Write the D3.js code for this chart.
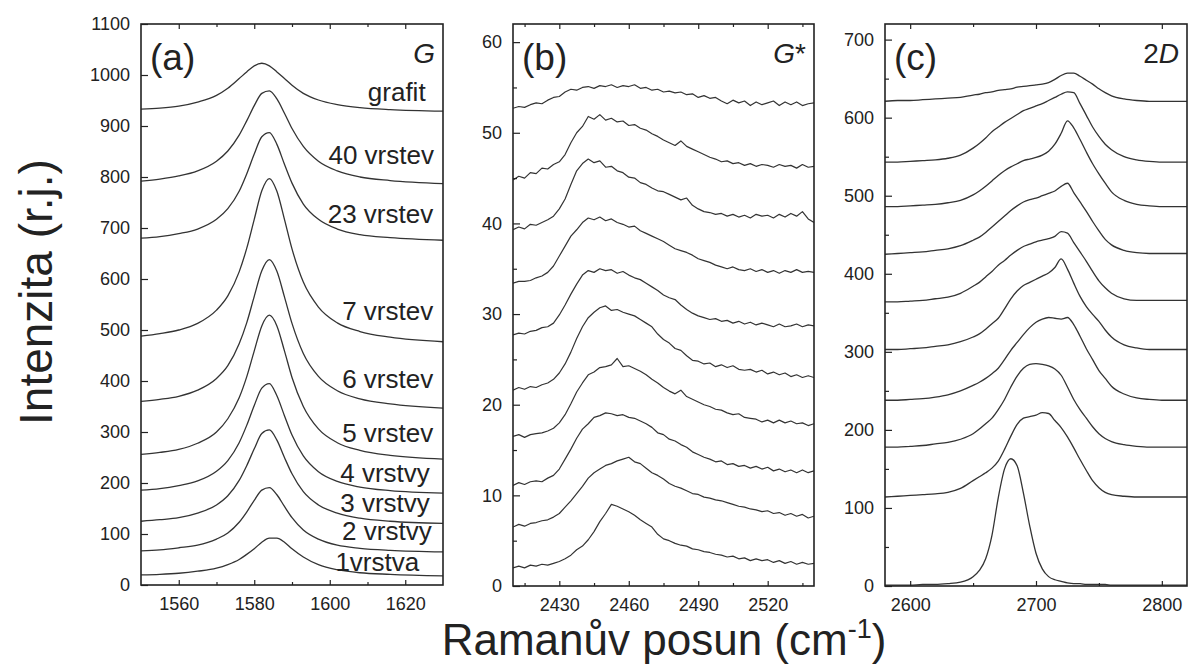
<!DOCTYPE html>
<html lang="cs">
<head>
<meta charset="utf-8">
<title>Ramanova spektra grafenu – pásy G, G* a 2D</title>
<script src="https://cdn.jsdelivr.net/npm/d3@7/dist/d3.min.js"></script>
<style>
  html, body { margin: 0; padding: 0; background: #fff; }
  svg { display: block; }
  text { font-family: "Liberation Sans", Arial, "DejaVu Sans", sans-serif; fill: #222; }
</style>
</head>
<body>
<svg id="chart" width="1189" height="667"></svg>
<script>
// ---------------- (a) pás G ----------------
const gShift = [1550,1555,1560,1565,1570,1573,1576,1578,1580,1582,1584,1586,1588,1590,1593,1597,1602,1608,1616,1630];
const gGrafit = [933,935,939,947,960,974,993,1006,1018,1023,1018,1006,993,980,964,951,942,936,932,929];
const g40 = [792,796,802,812,831,851,882,910,940,964,969,953,925,895,860,831,812,800,793,787];
const g23 = [680,683,689,698,717,738,772,806,845,879,887,864,825,788,747,717,698,687,681,676];
const g7  = [488,493,500,513,539,567,614,660,717,773,797,772,717,659,594,545,514,497,486,477];
const g6  = [360,364,370,382,405,430,473,514,566,616,638,615,565,513,454,409,381,365,355,347];
const g5  = [256,260,266,278,300,326,367,408,459,508,529,508,459,407,350,306,279,264,254,247];
const g4  = [186,189,195,204,223,244,279,313,352,386,395,371,332,294,253,222,203,192,185,180];
const g3  = [125,128,132,141,157,175,205,234,267,297,304,284,250,218,183,157,141,131,125,121];
const g2  = [67,69,73,78,90,102,123,143,166,186,191,177,154,132,108,90,78,72,68,65];
const g1  = [20,21,23,27,33,40,50,60,71,84,92,92,84,71,55,40,30,24,21,18];
const layerNames = ["1vrstva","2 vrstvy","3 vrstvy","4 vrstvy","5 vrstev","6 vrstev","7 vrstev","23 vrstev","40 vrstev","grafit"];

// ---------------- (b) pás G* ----------------
const gsShift = [2410,2412.5,2415,2417.5,2420,2422.5,2425,2427.5,2430,2432.5,2435,2437.5,2440,2442.5,2445,2447.5,2450,2452.5,2455,2457.5,
  2460,2462.5,2465,2467.5,2470,2472.5,2475,2477.5,2480,2482.5,2485,2487.5,2490,2492.5,2495,2497.5,2500,2502.5,2505,2507.5,
  2510,2512.5,2515,2517.5,2520,2522.5,2525,2527.5,2530,2532.5,2535,2537.5,2540];
const gsGrafit = [52.7,52.9,52.8,53.1,53.3,53.2,53.6,53.9,54.0,54.5,54.8,54.7,55.0,55.1,54.9,55.2,55.1,55.3,55.0,55.2,
  55.1,55.3,54.9,55.0,54.7,54.8,54.5,54.6,54.4,54.5,54.2,54.3,53.9,54.1,53.8,53.9,53.5,53.2,53.6,53.3,
  53.5,53.0,53.4,53.1,53.3,53.5,53.0,53.4,53.1,53.4,53.0,53.2,53.3];
const gs40 = [44.8,45.2,45.0,45.6,45.5,46.1,46.0,46.5,46.8,47.6,48.9,50.0,50.7,51.8,51.5,52.0,51.4,51.6,51.2,51.3,
  50.8,50.9,50.5,50.3,49.9,49.6,49.2,48.9,48.6,49.1,48.5,48.2,47.9,47.6,47.3,47.1,46.8,46.9,46.6,46.7,
  46.4,46.6,46.3,46.5,46.4,46.2,46.5,46.3,46.4,46.1,46.5,46.2,46.3];
const gs23 = [39.3,39.6,39.4,39.9,39.8,40.1,40.4,40.8,41.6,42.7,44.3,45.8,46.6,47.1,46.7,46.9,46.2,46.3,45.8,45.6,
  45.1,45.0,44.5,44.3,43.9,43.6,43.5,43.2,42.9,42.6,42.8,42.0,41.6,41.3,41.2,41.0,41.1,40.8,41.0,40.7,
  40.9,40.6,41.0,40.8,40.9,40.6,41.0,40.7,41.1,40.8,41.3,40.5,40.1];
const gs7 = [33.4,33.6,33.6,33.7,34.0,34.2,34.6,35.3,36.4,37.5,38.6,39.3,40.1,40.6,40.4,40.7,40.3,40.5,40.1,39.9,
  39.6,39.7,39.2,38.9,38.6,38.3,38.0,37.6,37.2,37.0,36.8,36.5,36.1,35.9,35.7,35.4,35.2,35.0,35.2,34.9,
  34.8,35.0,34.7,34.9,34.6,34.8,34.5,34.8,34.6,34.9,34.6,34.7,34.6];
const gs6 = [27.7,27.9,27.8,28.1,28.2,28.5,28.6,29.0,29.9,31.0,32.2,33.3,34.3,34.8,34.6,35.0,34.8,34.9,34.5,34.7,
  34.3,34.0,33.8,33.4,33.0,32.6,32.1,31.8,31.6,31.0,30.5,30.1,29.8,29.6,29.4,29.5,29.2,29.3,29.0,29.2,
  28.9,29.1,28.8,29.0,28.8,28.6,28.9,28.6,28.7,28.9,28.6,28.8,28.7];
const gs5 = [21.6,21.9,21.7,22.0,21.9,22.2,22.4,22.8,23.5,24.5,25.8,27.3,28.6,29.6,30.2,30.7,30.9,30.4,30.5,30.2,
  30.0,29.8,29.4,29.0,28.6,27.8,27.2,26.8,26.2,26.0,25.4,24.9,24.8,24.5,24.6,24.2,24.4,24.1,24.3,23.9,
  23.8,23.9,23.6,23.8,23.4,23.6,23.3,23.5,23.1,23.3,23.0,23.2,23.0];
const gs4 = [16.5,16.7,16.4,16.7,16.8,16.9,17.1,17.4,18.0,18.9,20.1,21.4,22.4,23.3,23.6,24.1,24.2,24.4,25.1,24.2,
  24.3,24.0,23.7,23.3,22.8,22.4,21.9,21.5,21.2,21.6,20.9,20.6,20.3,20.0,19.8,19.5,19.4,19.1,18.9,19.0,
  18.6,18.5,18.4,18.1,18.3,18.0,18.3,18.0,18.2,17.9,18.0,17.7,17.9];
const gs3 = [11.1,11.4,11.2,11.5,11.6,11.5,11.9,12.2,12.9,14.0,15.1,16.3,17.3,17.9,18.6,18.8,19.1,19.0,18.8,18.9,
  18.6,18.5,18.2,17.9,17.5,16.9,16.7,16.2,16.0,15.6,15.3,14.8,14.5,14.2,14.0,13.7,13.8,13.4,13.5,13.2,
  13.3,13.0,13.2,12.9,13.1,12.7,12.9,12.6,12.8,12.5,12.8,12.5,12.7];
const gs2 = [6.5,6.8,6.6,6.9,7.0,7.2,7.3,7.6,8.0,8.7,9.4,10.2,11.0,11.9,12.5,12.9,13.3,13.5,13.8,14.0,
  14.2,13.7,13.5,13.0,12.5,12.2,11.8,11.3,11.0,10.8,10.5,10.2,10.1,9.8,9.7,9.5,9.4,9.2,9.0,8.8,
  8.7,8.5,8.4,8.2,8.3,8.0,8.1,7.8,8.0,7.7,7.9,7.5,7.7];
const gs1 = [2.0,2.2,2.0,2.3,2.2,2.4,2.3,2.5,2.7,3.0,3.4,4.0,4.4,5.1,6.0,7.1,8.0,9.0,8.8,8.5,
  8.2,7.8,7.3,6.9,6.5,5.7,5.2,5.0,4.7,4.5,4.4,4.1,4.0,3.8,3.7,3.5,3.4,3.2,3.3,3.0,
  3.1,2.8,3.0,2.8,2.9,2.6,2.8,2.5,2.7,2.4,2.6,2.4,2.5];

// ---------------- (c) pás 2D ----------------
const dShift = [2580,2590,2600,2610,2620,2630,2640,2650,2655,2660,2665,2670,2675,2680,2685,2690,2695,2700,2705,2710,
  2715,2720,2725,2730,2735,2740,2745,2750,2755,2760,2770,2780,2790,2800,2810,2820];
const dGrafit = [621,622,622,623,624,625,626,629,630,632,633,635,636,637,639,640,641,642,643,645,
  649,654,657,657,653,648,643,637,632,628,624,622,621,621,621,621];
const d40 = [543,543,544,545,546,548,552,561,567,574,582,588,594,599,604,609,612,615,618,622,
  626,630,633,632,618,603,588,576,566,559,550,546,544,543,543,543];
const d23 = [486,486,487,488,489,491,494,501,506,512,519,526,532,537,541,545,547,549,552,557,
  566,580,596,587,572,556,541,528,516,505,494,489,487,486,486,486];
const d7 = [425,426,427,428,430,432,436,443,447,453,460,467,474,481,487,492,495,497,500,503,
  506,512,516,504,492,480,467,455,444,437,430,427,426,426,426,426];
const d6 = [364,364,365,366,368,370,375,384,389,396,403,411,417,424,430,435,438,441,443,445,
  448,454,452,440,428,416,403,391,382,375,368,366,366,366,366,366];
const d5 = [303,303,304,305,307,309,313,319,323,329,336,343,355,368,378,385,389,393,397,401,
  408,419,406,388,371,358,348,339,328,319,309,305,303,303,303,303];
const d4 = [238,238,239,240,242,245,250,257,261,266,272,279,290,302,312,322,331,338,342,344,
  343,342,344,335,320,304,290,276,266,256,246,241,239,238,238,238];
const d3v = [178,178,179,180,182,184,188,195,201,208,215,226,239,255,269,279,284,285,284,282,
  278,270,255,239,226,215,204,195,189,185,181,179,178,178,178,178];
const d2 = [114,115,116,117,118,120,125,135,140,145,151,160,175,192,207,215,217,219,222,221,
  212,203,191,177,162,148,135,126,120,117,115,114,114,114,114,114];
const d1 = [1,1,1,2,2,3,5,12,20,35,65,113,150,163,154,119,77,42,22,12,
  8,6,4,3,3,2,2,2,2,1,1,1,1,1,1,1];

// ---------------- osy ----------------
const gTicksX = [1560,1580,1600,1620], gMinorX = [1570,1590,1610];
const gTicksY = [0,100,200,300,400,500,600,700,800,900,1000,1100];
const gsTicksX = [2430,2460,2490,2520], gsMinorX = [2415,2445,2475,2505,2535];
const gsTicksY = [0,10,20,30,40,50,60], gsMinorY = [5,15,25,35,45,55];
const dTicksX = [2600,2700,2800], dMinorX = [2650,2750];
const dTicksY = [0,100,200,300,400,500,600,700], dMinorY = [50,150,250,350,450,550,650];

// ---------------- rozvržení ----------------
// umístění popisků vrstev v panelu (a) – v jednotkách os [posun, intenzita]
const layerLabelAt = [[1623.7,28],[1627,88],[1626.5,144],[1626.5,202],[1627.4,281],[1627.4,386],
  [1627.4,519],[1627.4,709],[1627.6,825],[1625.4,949]];

const panels = [
  { box: {left: 141, right: 443, top: 24, bottom: 585}, xDomain: [1550, 1630], yDomain: [0, 1100],
    shift: gShift, series: [g1,g2,g3,g4,g5,g6,g7,g23,g40,gGrafit], curve: d3.curveMonotoneX, width: 1.3,
    ticksX: gTicksX, minorX: gMinorX, ticksY: gTicksY, minorY: [],
    tag: "(a)", band: [["G", true]] },
  { box: {left: 513, right: 814, top: 24, bottom: 586}, xDomain: [2410, 2540], yDomain: [0, 62],
    shift: gsShift, series: [gs1,gs2,gs3,gs4,gs5,gs6,gs7,gs23,gs40,gsGrafit], curve: d3.curveLinear, width: 1.2,
    ticksX: gsTicksX, minorX: gsMinorX, ticksY: gsTicksY, minorY: gsMinorY,
    tag: "(b)", band: [["G", true], ["*", false]] },
  { box: {left: 885, right: 1187, top: 24, bottom: 586}, xDomain: [2580, 2820], yDomain: [0, 720],
    shift: dShift, series: [d1,d2,d3v,d4,d5,d6,d7,d23,d40,dGrafit], curve: d3.curveMonotoneX, width: 1.3,
    ticksX: dTicksX, minorX: dMinorX, ticksY: dTicksY, minorY: dMinorY,
    tag: "(c)", band: [["2", false], ["D", true]] }
];

const svg = d3.select("#chart");
const ink = "#222";

function styleAxis(sel, fontSize) {
  sel.select(".domain").remove();
  sel.selectAll(".tick line").attr("stroke", ink).attr("stroke-width", 1.2);
  sel.selectAll(".tick text").attr("font-size", fontSize);
}

panels.forEach((p, k) => {
  const b = p.box;
  const x = d3.scaleLinear().domain(p.xDomain).range([b.left, b.right]);
  const y = d3.scaleLinear().domain(p.yDomain).range([b.bottom, b.top]);
  const g = svg.append("g");

  const clipId = "clip" + k;
  svg.append("clipPath").attr("id", clipId).append("rect")
    .attr("x", b.left).attr("y", b.top).attr("width", b.right - b.left).attr("height", b.bottom - b.top);

  const line = d3.line()
    .x((d, i) => x(p.shift[i]))
    .y(d => y(d))
    .curve(p.curve);

  g.append("g").attr("clip-path", `url(#${clipId})`)
    .selectAll("path").data(p.series).join("path")
    .attr("d", line)
    .attr("fill", "none")
    .attr("stroke", "#333")
    .attr("stroke-width", p.width)
    .attr("stroke-linejoin", "round");

  // spodní osa s popisky
  g.append("g").attr("transform", `translate(0,${b.bottom})`)
    .call(d3.axisBottom(x).tickValues(p.ticksX).tickSize(-5).tickPadding(12).tickFormat(d3.format("d")))
    .call(s => styleAxis(s, 18));
  g.append("g").attr("transform", `translate(0,${b.bottom})`)
    .call(d3.axisBottom(x).tickValues(p.minorX).tickSize(-3).tickFormat(""))
    .call(s => styleAxis(s, 18));
  // horní osa – jen značky
  g.append("g").attr("transform", `translate(0,${b.top})`)
    .call(d3.axisTop(x).tickValues(p.ticksX).tickSize(-5).tickFormat(""))
    .call(s => styleAxis(s, 18));
  g.append("g").attr("transform", `translate(0,${b.top})`)
    .call(d3.axisTop(x).tickValues(p.minorX).tickSize(-3).tickFormat(""))
    .call(s => styleAxis(s, 18));
  // levá osa
  g.append("g").attr("transform", `translate(${b.left},0)`)
    .call(d3.axisLeft(y).tickValues(p.ticksY).tickSize(-7).tickPadding(11).tickFormat(d3.format("d")))
    .call(s => styleAxis(s, 18));
  g.append("g").attr("transform", `translate(${b.left},0)`)
    .call(d3.axisLeft(y).tickValues(p.minorY).tickSize(-4).tickFormat(""))
    .call(s => styleAxis(s, 18));

  // rámeček
  g.append("rect")
    .attr("x", b.left).attr("y", b.top)
    .attr("width", b.right - b.left).attr("height", b.bottom - b.top)
    .attr("fill", "none").attr("stroke", ink).attr("stroke-width", 1.6);

  // označení panelu a pásu
  g.append("text").attr("x", b.left + 9).attr("y", 70)
    .attr("font-size", 37).text(p.tag);
  const band = g.append("text").attr("x", b.right - 8).attr("y", 63)
    .attr("text-anchor", "end").attr("font-size", 28);
  p.band.forEach(([t, it]) => band.append("tspan").attr("font-style", it ? "italic" : "normal").text(t));

  // popisky vrstev (jen panel a)
  if (k === 0) {
    g.selectAll("text.layer").data(layerNames).join("text")
      .attr("class", "layer")
      .attr("x", (d, i) => x(layerLabelAt[i][0]))
      .attr("y", (d, i) => y(layerLabelAt[i][1]))
      .attr("text-anchor", "end")
      .attr("font-size", 26)
      .text(d => d);
  }
});

// názvy os
svg.append("text")
  .attr("transform", "translate(52,292) rotate(-90)")
  .attr("text-anchor", "middle")
  .attr("font-size", 46)
  .text("Intenzita (r.j.)");

const xt = svg.append("text")
  .attr("x", 664).attr("y", 655)
  .attr("text-anchor", "middle")
  .attr("font-size", 44);
xt.append("tspan").text("Ramanův posun (cm");
xt.append("tspan").attr("font-size", 27).attr("dy", -17).text("-1");
xt.append("tspan").attr("dy", 17).text(")");
</script>
</body>
</html>
